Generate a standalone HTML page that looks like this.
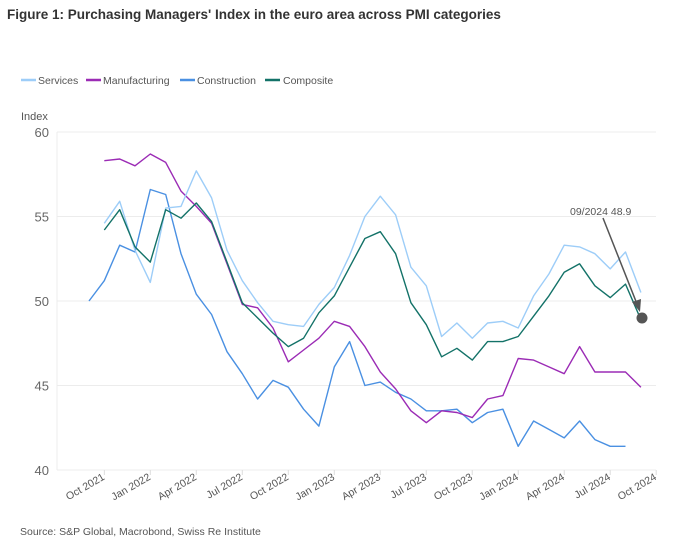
<!DOCTYPE html>
<html><head><meta charset="utf-8"><style>
body{margin:0;background:#fff;}
svg{display:block;font-family:"Liberation Sans",sans-serif;}
</style></head><body>
<svg id="c" width="673" height="548" viewBox="0 0 673 548">
<text x="7" y="19" font-size="13.5" font-weight="bold" fill="#333">Figure 1: Purchasing Managers' Index in the euro area across PMI categories</text>
<g font-size="10.5" fill="#555">
<line x1="21" y1="80" x2="36" y2="80" stroke="#9dcdf8" stroke-width="2.5"/><text x="38" y="84">Services</text>
<line x1="86" y1="80" x2="101" y2="80" stroke="#9b2bb5" stroke-width="2.5"/><text x="103" y="84">Manufacturing</text>
<line x1="180" y1="80" x2="195" y2="80" stroke="#4a90e2" stroke-width="2.5"/><text x="197" y="84">Construction</text>
<line x1="265" y1="80" x2="280" y2="80" stroke="#137268" stroke-width="2.5"/><text x="283" y="84">Composite</text>
</g>
<text x="21" y="120" font-size="11" fill="#555">Index</text>
<g id="grid"></g>
<g id="series"></g>
<text x="570" y="215" font-size="10.5" fill="#555">09/2024 48.9</text>
<line x1="603" y1="218" x2="637" y2="304" stroke="#555" stroke-width="1.5"/>
<polygon points="640,312 632,302 641,299" fill="#555"/>
<circle cx="642" cy="318" r="5.5" fill="#555"/>
<text x="20" y="535" font-size="10.5" fill="#555">Source: S&amp;P Global, Macrobond, Swiss Re Institute</text>
</svg>
<script>
var NS="http://www.w3.org/2000/svg";
function X(i){return 89+15.33*i;}
function Y(v){return 132+(60-v)*16.9;}
function el(t,a,p,txt){var e=document.createElementNS(NS,t);for(var k in a)e.setAttribute(k,a[k]);if(txt)e.textContent=txt;p.appendChild(e);return e;}
var g=document.getElementById('grid');
[60,55,50,45,40].forEach(function(v){
 el('line',{x1:57,x2:656,y1:Y(v),y2:Y(v),stroke:'#ececec','stroke-width':1},g);
 el('text',{x:49,y:Y(v)+5,'text-anchor':'end','font-size':13,fill:'#666'},g,String(v));
});
el('line',{x1:57,x2:57,y1:132,y2:470,stroke:'#ececec'},g);
var labs=['Oct 2021','Jan 2022','Apr 2022','Jul 2022','Oct 2022','Jan 2023','Apr 2023','Jul 2023','Oct 2023','Jan 2024','Apr 2024','Jul 2024','Oct 2024'];
labs.forEach(function(l,k){var x=X(1+3*k);
 el('line',{x1:x,x2:x,y1:470,y2:475,stroke:'#ddd'},g);
 el('text',{x:x+1,y:479,'text-anchor':'end','font-size':10.5,fill:'#555',transform:'rotate(-30 '+(x+1)+' 479)'},g,l);
});
var S={
'#4a90e2':[[0,[50.0,51.2,53.3,52.9,56.6,56.3,52.8,50.4,49.2,47.0,45.7,44.2,45.3,44.9,43.6,42.6,46.1,47.6,45.0,45.2,44.6,44.2,43.5,43.5,43.6,42.8,43.4,43.6,41.4,42.9,42.4,41.9,42.9,41.8,41.4,41.4]]],
'#9b2bb5':[[1,[58.3,58.4,58.0,58.7,58.2,56.5,55.6,54.6,52.2,49.8,49.6,48.4,46.4,47.1,47.8,48.8,48.5,47.3,45.8,44.8,43.5,42.8,43.5,43.4,43.1,44.2,44.4,46.6,46.5,46.1,45.7,47.3,45.8,45.8,45.8,44.9]]],
'#9dcdf8':[[1,[54.6,55.9,53.0,51.1,55.5,55.6,57.7,56.1,53.0,51.2,49.9,48.8,48.6,48.5,49.8,50.8,52.7,55.0,56.2,55.1,52.0,50.9,47.9,48.7,47.8,48.7,48.8,48.4,50.3,51.6,53.3,53.2,52.8,51.9,52.9,50.5]]],
'#137268':[[1,[54.2,55.4,53.2,52.3,55.4,54.9,55.8,54.7,52.3,49.9,49.0,48.1,47.3,47.8,49.3,50.3,52.0,53.7,54.1,52.8,49.9,48.6,46.7,47.2,46.5,47.6,47.6,47.9,49.1,50.3,51.7,52.2,50.9,50.2,51.0,48.9]]]
};
var sg=document.getElementById('series');
for(var c in S){S[c].forEach(function(s){var st=s[0],d=s[1];
 var pts=d.map(function(v,j){return X(st+j).toFixed(1)+','+Y(v).toFixed(1);}).join(' ');
 el('polyline',{points:pts,fill:'none',stroke:c,'stroke-width':1.4,'stroke-linejoin':'round'},sg);});}
</script>
</body></html>
